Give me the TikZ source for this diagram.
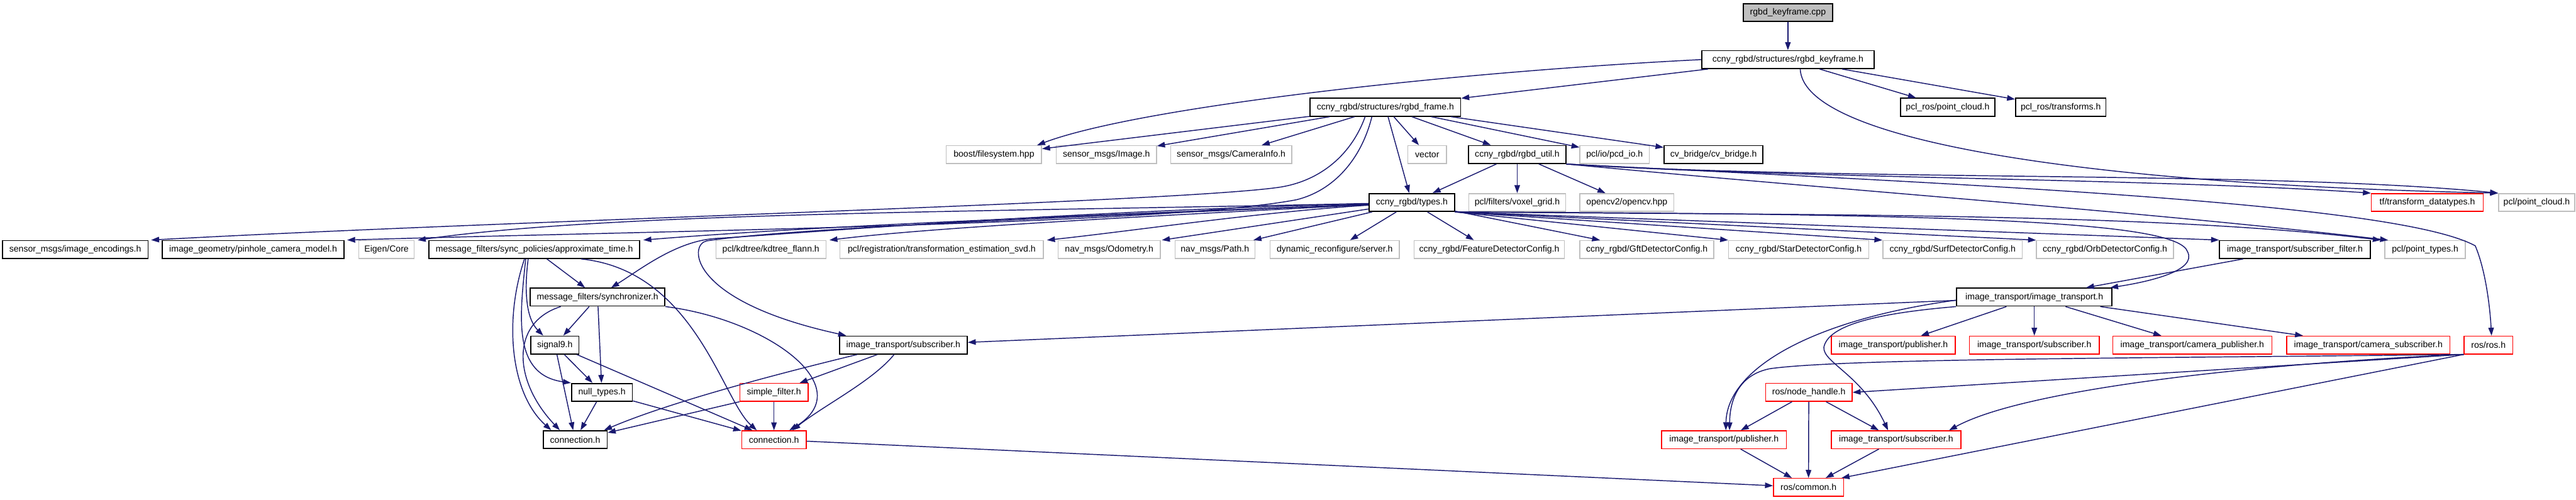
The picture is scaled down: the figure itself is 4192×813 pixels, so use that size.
\documentclass[tikz,border=0pt]{standalone}
\usepackage{fontspec}
\setmainfont{Liberation Sans}
\usetikzlibrary{arrows.meta}
\definecolor{edgec}{HTML}{191970}
\definecolor{grayb}{HTML}{BFBFBF}
\definecolor{redb}{HTML}{FF0000}
\begin{document}
\begin{tikzpicture}[x=1pt,y=-1pt,
  box/.style={rectangle, minimum height=29pt, inner sep=0pt, font=\fontsize{14.4}{16}\selectfont, line width=1.5pt, fill=white},
  kb/.style={box, draw=black, line width=1.8pt},
  gb/.style={box, draw=grayb},
  rb/.style={box, draw=redb},
  rootb/.style={box, draw=black, line width=1.8pt, fill=grayb},
  e/.style={draw=edgec, line width=1.5pt, -{Triangle[length=13pt,width=9pt]}}]
\useasboundingbox (0,0) rectangle (4192,813);
\fill[white] (0,0) rectangle (4192,813);
% row 0-2
\node[rootb, minimum width=145pt] (root) at (2909.5,20.5) {rgbd\_keyframe.cpp};
\node[kb, minimum width=281pt] (kfh) at (2909.5,97) {ccny\_rgbd/structures/rgbd\_keyframe.h};
\node[kb, minimum width=245pt] (frame) at (2254.5,174.5) {ccny\_rgbd/structures/rgbd\_frame.h};
\node[kb, minimum width=153pt] (pclrospc) at (3169.5,174.5) {pcl\_ros/point\_cloud.h};
\node[kb, minimum width=147pt] (pclrostf) at (3353.5,174.5) {pcl\_ros/transforms.h};
% row 3
\node[gb, minimum width=155pt] (boost) at (1617.5,251.5) {boost/filesystem.hpp};
\node[gb, minimum width=163pt] (simage) at (1800.5,251.5) {sensor\_msgs/Image.h};
\node[gb, minimum width=197pt] (scam) at (2003.5,251.5) {sensor\_msgs/CameraInfo.h};
\node[gb, minimum width=63pt] (vector) at (2322.5,251.5) {vector};
\node[kb, minimum width=158pt] (util) at (2469,251.5) {ccny\_rgbd/rgbd\_util.h};
\node[gb, minimum width=113pt] (pcdio) at (2627.5,251.5) {pcl/io/pcd\_io.h};
\node[kb, minimum width=161pt] (cvb) at (2788.5,251.5) {cv\_bridge/cv\_bridge.h};
% row 4
\node[kb, minimum width=139pt] (types) at (2297.5,329.5) {ccny\_rgbd/types.h};
\node[gb, minimum width=158pt] (voxel) at (2469,329.5) {pcl/filters/voxel\_grid.h};
\node[gb, minimum width=153pt] (opencv) at (2647.5,329.5) {opencv2/opencv.hpp};
\node[rb, minimum width=182pt] (tfdt) at (3950,329.5) {tf/transform\_datatypes.h};
\node[gb, minimum width=124pt] (pclpc) at (4128,329.5) {pcl/point\_cloud.h};
% row 5
\node[kb, minimum width=237pt] (enc) at (122.5,406) {sensor\_msgs/image\_encodings.h};
\node[kb, minimum width=296pt] (pinhole) at (412,406) {image\_geometry/pinhole\_camera\_model.h};
\node[gb, minimum width=90pt] (eigen) at (629,406) {Eigen/Core};
\node[kb, minimum width=343pt] (approx) at (869.5,406) {message\_filters/sync\_policies/approximate\_time.h};
\node[gb, minimum width=179pt] (kdtree) at (1254.5,406) {pcl/kdtree/kdtree\_flann.h};
\node[gb, minimum width=331pt] (svd) at (1532.5,406) {pcl/registration/transformation\_estimation\_svd.h};
\node[gb, minimum width=166pt] (odom) at (1805,406) {nav\_msgs/Odometry.h};
\node[gb, minimum width=130pt] (path) at (1977,406) {nav\_msgs/Path.h};
\node[gb, minimum width=210pt] (dyn) at (2172,406) {dynamic\_reconfigure/server.h};
\node[gb, minimum width=245pt] (feat) at (2423.5,406) {ccny\_rgbd/FeatureDetectorConfig.h};
\node[gb, minimum width=218pt] (gft) at (2680,406) {ccny\_rgbd/GftDetectorConfig.h};
\node[gb, minimum width=228pt] (star) at (2927,406) {ccny\_rgbd/StarDetectorConfig.h};
\node[gb, minimum width=227pt] (surf) at (3177.5,406) {ccny\_rgbd/SurfDetectorConfig.h};
\node[gb, minimum width=223pt] (orb) at (3425.5,406) {ccny\_rgbd/OrbDetectorConfig.h};
\node[kb, minimum width=245pt] (subf) at (3734.5,406) {image\_transport/subscriber\_filter.h};
\node[gb, minimum width=131pt] (pcltypes) at (3946.5,406) {pcl/point\_types.h};
% row 6
\node[kb, minimum width=219pt] (sync) at (972.5,483.5) {message\_filters/synchronizer.h};
\node[kb, minimum width=253pt] (it) at (3310.5,483.5) {image\_transport/image\_transport.h};
% row 7
\node[kb, minimum width=78pt] (signal) at (903,561.5) {signal9.h};
\node[kb, minimum width=208pt] (itsuba) at (1470,561.5) {image\_transport/subscriber.h};
\node[rb, minimum width=202pt] (itpub) at (3081,561.5) {image\_transport/publisher.h};
\node[rb, minimum width=211pt] (itsubb) at (3310.5,561.5) {image\_transport/subscriber.h};
\node[rb, minimum width=259pt] (campub) at (3567.5,561.5) {image\_transport/camera\_publisher.h};
\node[rb, minimum width=266pt] (camsub) at (3854,561.5) {image\_transport/camera\_subscriber.h};
\node[rb, minimum width=79pt] (ros) at (4049.5,561.5) {ros/ros.h};
% row 8
\node[kb, minimum width=99pt] (null) at (979.5,638.5) {null\_types.h};
\node[rb, minimum width=111pt] (simple) at (1259.5,638.5) {simple\_filter.h};
\node[rb, minimum width=141pt] (nh) at (2943.5,638.5) {ros/node\_handle.h};
% row 9
\node[kb, minimum width=104pt] (conna) at (936,715.5) {connection.h};
\node[rb, minimum width=105pt] (connb) at (1259.5,715.5) {connection.h};
\node[rb, minimum width=203pt] (itpubb) at (2805.5,715.5) {image\_transport/publisher.h};
\node[rb, minimum width=211pt] (itsubc) at (3085.5,715.5) {image\_transport/subscriber.h};
% row 10
\node[rb, minimum width=114pt] (common) at (2943,793) {ros/common.h};

% ---- edges ----
\draw[e] (root) -- (kfh);
\draw[e] (kfh) -- (frame);
\draw[e] (kfh.west) .. controls (2350,118) and (1850,175) .. ([xshift=-8pt]boost.north east);
\draw[e] (kfh) -- (pclrospc);
\draw[e] (kfh) -- (pclrostf);
\draw[e] ([xshift=20pt]kfh.south) .. controls (2935,230) and (3400,300) .. (pclpc.north west);

\draw[e] (frame) -- (boost);
\draw[e] (frame) -- (simage);
\draw[e] (frame) -- (scam);
\draw[e] (frame) -- (vector);
\draw[e] (frame) -- (util);
\draw[e] (frame) -- (pcdio);
\draw[e] (frame) -- (cvb);
\draw[e] (frame) -- (types);
\draw[e] ([xshift=-33pt]frame.south) .. controls (2200,250) and (2150,295) .. (2080,305) .. controls (1900,330) and (800,360) .. ([xshift=4pt]enc.north east);
\draw[e] ([xshift=-22pt]frame.south) .. controls (2215,260) and (2170,310) .. (2110,325) .. controls (1900,365) and (1100,375) .. ([xshift=4pt]pinhole.north east);

\draw[e] (util) -- (types);
\draw[e] (util) -- (voxel);
\draw[e] (util) -- (opencv);
\draw[e] (util.south east) .. controls (2900,290) and (3500,290) .. (tfdt.north west);
\draw[e] (util.south east) .. controls (3000,295) and (3700,278) .. (pclpc.north west);
\draw[e] (util.south east) .. controls (3000,310) and (3500,345) .. ([xshift=6pt]pcltypes.north west);
\draw[e] (util.south east) .. controls (3200,300) and (3900,330) .. (4028,400) .. controls (4045,440) and (4052,500) .. ([xshift=5pt]ros.north);

\draw[e] (types) .. controls (1600,345) and (1000,345) .. ([xshift=5pt]eigen.north east);
\draw[e] (types) .. controls (1650,355) and (1300,370) .. ([xshift=5pt]approx.north east);
\draw[e] (types) .. controls (1800,355) and (1500,372) .. ([xshift=5pt]kdtree.north east);
\draw[e] (types) .. controls (2050,345) and (1850,375) .. ([xshift=5pt]svd.north east);
\draw[e] (types) -- ([xshift=2pt]odom.north east);
\draw[e] (types) -- ([xshift=-3pt]path.north east);
\draw[e] (types) -- (dyn);
\draw[e] (types) -- (feat);
\draw[e] (types) -- (gft);
\draw[e] (types.south east) -- (star.north west);
\draw[e] (types.south east) -- (surf.north west);
\draw[e] (types.south east) -- (orb.north west);
\draw[e] (types.south east) -- (subf.north west);
\draw[e] (types.south east) .. controls (2900,350) and (3500,345) .. ([xshift=-6pt]pcltypes.north west);
\draw[e] (types.south east) .. controls (3200,348) and (3545,360) .. (3560,410) .. controls (3575,440) and (3500,458) .. ([xshift=-4pt]it.north east);
\draw[e] (types) .. controls (1700,345) and (1300,380) .. (1165,388) .. controls (1100,392) and (1040,440) .. ([xshift=22pt]sync.north);
\draw[e] (types) .. controls (1700,355) and (1280,372) .. (1150,392) .. controls (1120,398) and (1120,490) .. ([xshift=12pt]itsuba.north west);

\draw[e] (approx) -- (sync);
\draw[e] ([xshift=-10pt]approx.south) .. controls (852,480) and (858,520) .. ([xshift=-19pt]signal.north);
\draw[e] ([xshift=-14pt]approx.south) .. controls (845,520) and (835,610) .. (null.north west);
\draw[e] ([xshift=-16pt]approx.south) .. controls (820,520) and (830,640) .. ([xshift=-39pt]conna.north);
\draw[e] ([xshift=76pt]approx.south) .. controls (1130,440) and (1175,650) .. ([xshift=-28pt]connb.north);

\draw[e] (sync) -- (signal);
\draw[e] (sync) -- (null);
\draw[e] ([xshift=-60pt]sync.south) .. controls (830,525) and (835,620) .. ([xshift=-25pt]conna.north);
\draw[e] (sync.south east) .. controls (1250,520) and (1400,630) .. ([xshift=25pt]connb.north);

\draw[e] (signal) -- (null);
\draw[e] (signal) -- (conna);
\draw[e] (signal) -- ([xshift=-35pt]connb.north);
\draw[e] (null) -- (conna);
\draw[e] (null) -- (connb);

\draw[e] (itsuba) -- (simple);
\draw[e] ([xshift=-75pt]itsuba.south) .. controls (1300,600) and (1100,650) .. ([xshift=-6pt]conna.north east);
\draw[e] ([xshift=-15pt]itsuba.south) .. controls (1420,620) and (1340,660) .. ([xshift=30pt]connb.north);
\draw[e] (simple.south west) -- ([yshift=-4pt]conna.north east);
\draw[e] (simple) -- (connb);
\draw[e] (connb) -- (common);

\draw[e] (subf) -- (it);
\draw[e] (it) -- (itsuba);
\draw[e] (it) -- (itpub);
\draw[e] (it) -- (itsubb);
\draw[e] (it) -- (campub);
\draw[e] (it) -- (camsub);
\draw[e] ([yshift=-5pt]it.west) .. controls (2950,520) and (2810,600) .. ([xshift=3pt]itpubb.north);
\draw[e] (it.south west) .. controls (3050,510) and (2975,530) .. (2968,565) .. controls (2966,590) and (3030,610) .. ([xshift=-13pt]itsubc.north);

\draw[e] (ros.south west) -- (nh.east);
\draw[e] (ros.south west) .. controls (3500,583) and (3000,583) .. (2880,600) .. controls (2830,610) and (2815,650) .. ([xshift=9pt]itpubb.north);
\draw[e] (ros.south west) .. controls (3700,590) and (3300,630) .. ([xshift=-20pt]itsubc.north east);
\draw[e] (ros.south west) -- ([xshift=-4pt]common.north east);
\draw[e] (nh) -- (itpubb);
\draw[e] (nh) -- (itsubc);
\draw[e] (nh) -- (common);
\draw[e] (itpubb) -- (common);
\draw[e] (itsubc) -- (common);
\end{tikzpicture}
\end{document}
